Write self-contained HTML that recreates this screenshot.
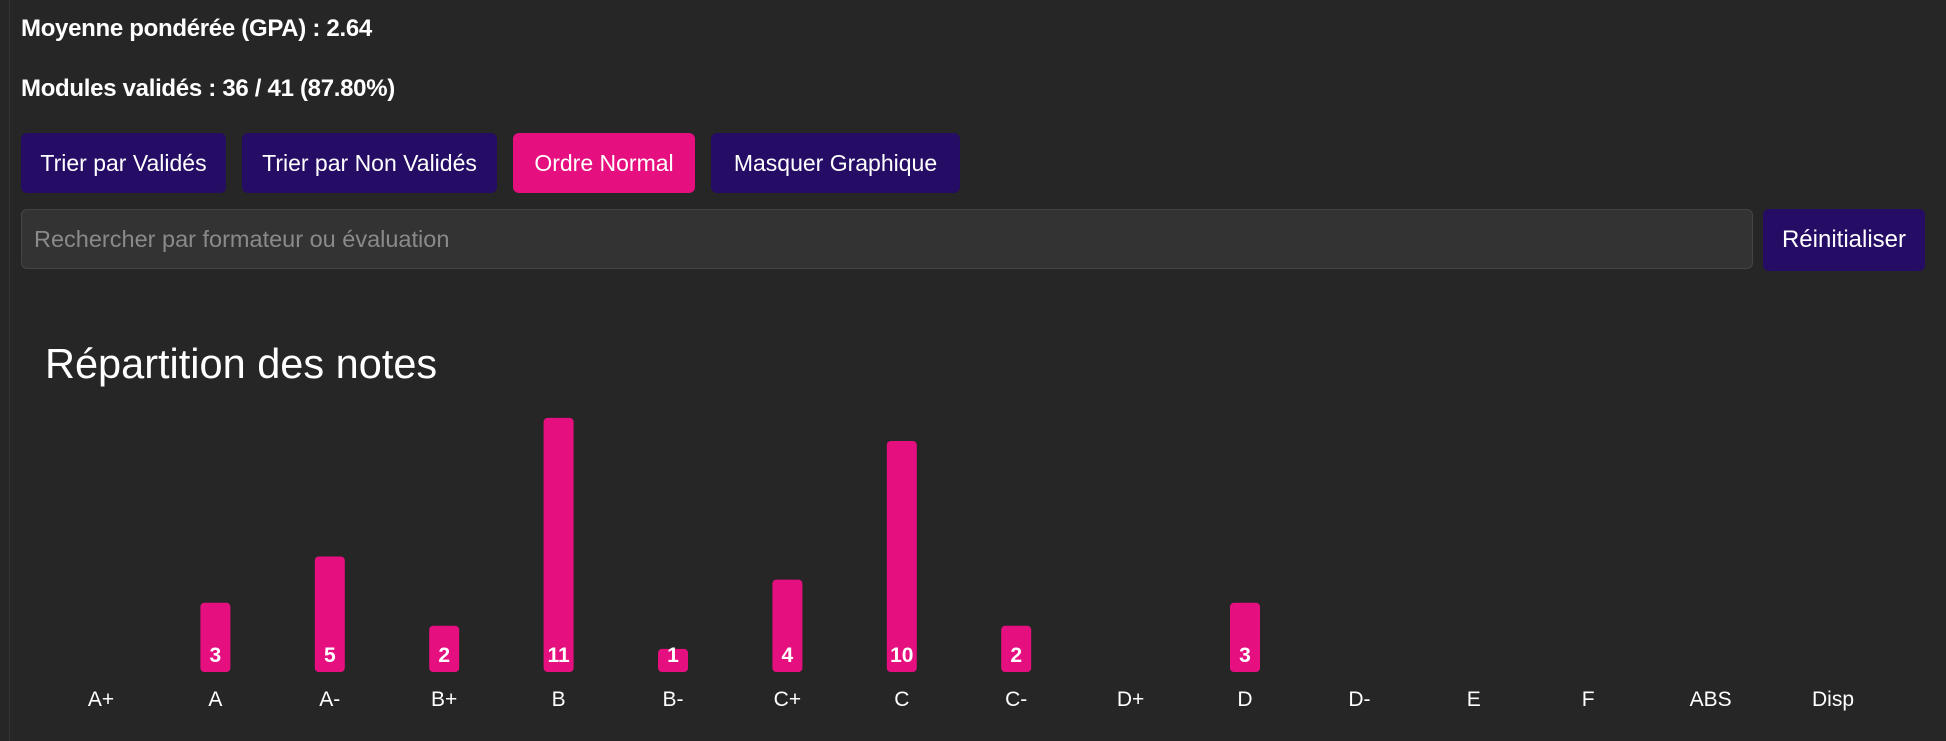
<!DOCTYPE html>
<html><head><meta charset="utf-8"><style>
html,body{margin:0;padding:0;background:#262626;width:1946px;height:741px;overflow:hidden;font-family:"Liberation Sans",sans-serif;color:#fff}
.panel{position:absolute;left:9px;top:0;width:1937px;height:741px;border-left:1px solid #333}
.t{position:absolute;font-weight:bold;font-size:24px;left:21px;letter-spacing:-0.3px}
.btn{position:absolute;top:133px;height:60px;border-radius:6px;background:#250c64;color:#fff;font-size:23px;display:flex;align-items:center;justify-content:center;white-space:nowrap}
#search{position:absolute;left:21px;top:209px;width:1732px;height:60px;background:#333;border:1px solid #444;border-radius:6px;box-sizing:border-box;color:#8a8a8a;font-size:23.5px;padding-left:12px;display:flex;align-items:center}
#title{position:absolute;left:45px;top:340px;font-size:41.5px}
</style></head><body>
<div class="panel"></div>
<div class="t" style="top:15px">Moyenne pondérée (GPA) : 2.64</div>
<div class="t" style="top:75px">Modules validés : 36 / 41 (87.80%)</div>
<div class="btn" style="left:21px;width:205px">Trier par Validés</div>
<div class="btn" style="left:242px;width:255px">Trier par Non Validés</div>
<div class="btn" style="left:513px;width:182px;background:#e50f7f">Ordre Normal</div>
<div class="btn" style="left:711px;width:249px">Masquer Graphique</div>
<div id="search">Rechercher par formateur ou évaluation</div>
<div class="btn" style="left:1763px;top:209px;width:162px;height:62px;font-size:24px">Réinitialiser</div>
<div id="title">Répartition des notes</div>
<svg id="chart" width="1946" height="741" style="position:absolute;left:0;top:0"></svg>
<script>
const categories=["A+","A","A-","B+","B","B-","C+","C","C-","D+","D","D-","E","F","ABS","Disp"];
const counts=[0,3,5,2,11,1,4,10,2,0,3,0,0,0,0,0];
const svg=document.getElementById('chart');
const NS='http://www.w3.org/2000/svg';
const x0=101,step=114.4,base=672,unit=23.1,bw=30;
function xs(i){return x0+i*step+(i>=14?(i-13)*8:0);}
function ys(v){return base-v*unit;}
categories.forEach((c,i)=>{
  const cx=xs(i);
  const v=counts[i];
  if(v>0){
    const r=document.createElementNS(NS,'rect');
    
    
    r.setAttribute('x',cx-bw/2);r.setAttribute('y',ys(v));
    r.setAttribute('width',bw);r.setAttribute('height',base-ys(v));
    r.setAttribute('rx',4);r.setAttribute('fill','#e50f7f');
    svg.appendChild(r);
    const t=document.createElementNS(NS,'text');
    
    
    t.setAttribute('x',cx);t.setAttribute('y',662);
    t.setAttribute('text-anchor','middle');t.setAttribute('fill','#fff');
    t.setAttribute('font-size','21');t.setAttribute('font-weight','bold');
    t.setAttribute('font-family','Liberation Sans, sans-serif');
    t.textContent=v;svg.appendChild(t);
  }
  const l=document.createElementNS(NS,'text');
  
  
  l.setAttribute('x',cx);l.setAttribute('y',706);
  l.setAttribute('text-anchor','middle');l.setAttribute('fill','#fff');
  l.setAttribute('font-size','21');l.setAttribute('font-family','Liberation Sans, sans-serif');
  l.textContent=c;svg.appendChild(l);
});
</script>
</body></html>
